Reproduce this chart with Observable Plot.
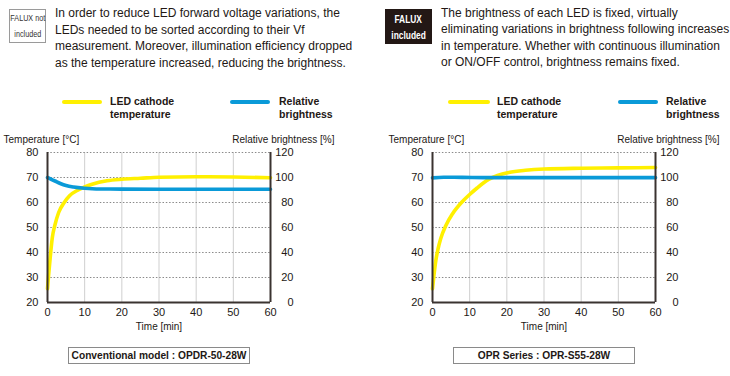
<!DOCTYPE html>
<html><head><meta charset="utf-8">
<script src="https://cdn.jsdelivr.net/npm/d3@7"></script>
<script src="https://cdn.jsdelivr.net/npm/@observablehq/plot@0.6"></script>
<style>
body{margin:0;background:#fff;}
#root{position:relative;width:730px;height:376px;overflow:hidden;font-family:"Liberation Sans",Arial,sans-serif;color:#231815;}
.abs{position:absolute;}
.para{font-size:12px;line-height:16.5px;white-space:nowrap;color:#231815;}
.badge{box-sizing:border-box;display:flex;flex-direction:column;justify-content:center;align-items:center;line-height:16px;white-space:nowrap;}
.badge span{display:block;transform:scaleX(0.8);}
.leg{font-size:10.5px;font-weight:bold;line-height:13.3px;white-space:nowrap;}
.sw{height:4px;border-radius:2px;}
.cap{box-sizing:border-box;border:1px solid #8a8a8a;font-size:10.2px;font-weight:bold;text-align:center;line-height:15px;white-space:nowrap;}
</style></head>
<body>
<div id="root">
  <div class="abs badge" style="left:9px;top:9px;width:37px;height:34px;border:1px solid #9a9a9a;font-size:9px;color:#333;"><span>FALUX not</span><span>included</span></div>
  <div class="abs para" style="left:55px;top:5px;">In order to reduce LED forward voltage variations, the<br>LEDs needed to be sorted according to their Vf<br>measurement. Moreover, illumination efficiency dropped<br>as the temperature increased, reducing the brightness.</div>
  <div class="abs badge" style="left:385px;top:9px;width:47px;height:35px;background:#231815;color:#fff;font-size:10.5px;font-weight:bold;"><span>FALUX</span><span>included</span></div>
  <div class="abs para" style="left:441px;top:4.5px;">The brightness of each LED is fixed, virtually<br>eliminating variations in brightness following increases<br>in temperature. Whether with continuous illumination<br>or ON/OFF control, brightness remains fixed.</div>

  <div class="abs sw" style="left:62px;top:100px;width:40px;background:#fff000;"></div>
  <div class="abs leg" style="left:110px;top:95px;">LED cathode<br>temperature</div>
  <div class="abs sw" style="left:230px;top:100px;width:40px;background:#0a9ad8;"></div>
  <div class="abs leg" style="left:279px;top:95px;">Relative<br>brightness</div>

  <div class="abs sw" style="left:448px;top:100px;width:42px;background:#fff000;"></div>
  <div class="abs leg" style="left:497px;top:95px;">LED cathode<br>temperature</div>
  <div class="abs sw" style="left:618px;top:100px;width:40px;background:#0a9ad8;"></div>
  <div class="abs leg" style="left:666px;top:95px;">Relative<br>brightness</div>

  <div id="p1" class="abs" style="left:0px;top:125px;"></div>
  <div id="p2" class="abs" style="left:385px;top:125px;"></div>

  <div class="abs cap" style="left:68px;top:347px;width:182px;height:17px;">Conventional model : OPDR-50-28W</div>
  <div class="abs cap" style="left:453px;top:347px;width:182px;height:17px;">OPR Series : OPR-S55-28W</div>
</div>
<script>
// ---- data ----
const xTicks = [0, 10, 20, 30, 40, 50, 60];
const tempTicks = [20, 30, 40, 50, 60, 70, 80];
const brightTicks = [0, 20, 40, 60, 80, 100, 120];

const convTempTime = [0, 0.3, 0.7, 1.3, 2, 3, 4.5, 6, 8, 10, 12, 16, 20, 25, 30, 40, 50, 60];
const convTemp     = [25.5, 31, 37.5, 46, 51, 56, 60, 62.8, 64.8, 66.2, 67.3, 68.7, 69.3, 69.7, 70.1, 70.3, 70.2, 69.9];
const convBrightTime = [0, 1, 2, 3.6, 5, 7, 10, 12, 15, 20, 30, 45, 60];
const convBright     = [100, 98.6, 97.2, 95, 93.6, 92.4, 91.4, 91.0, 90.8, 90.7, 90.6, 90.6, 90.6];

const oprTempTime = [0, 0.4, 0.9, 1.5, 2.2, 3.6, 5.4, 8, 10, 12, 13.5, 15.2, 17.5, 20.5, 25, 30, 40, 50, 60];
const oprTemp     = [25.5, 31, 36.8, 41.5, 45.5, 50.8, 55.5, 60.3, 63.2, 65.8, 67.6, 69.3, 70.8, 72.0, 72.9, 73.4, 73.7, 73.85, 74];
const oprBrightTime = [0, 3, 8, 15, 30, 60];
const oprBright     = [99.7, 100.2, 100.1, 99.9, 99.9, 99.9];

const FONT = "'Liberation Sans',Arial,sans-serif";
const YELLOW = "#fff000", BLUE = "#0a9ad8", DARK = "#3a3330";
const toTemp = b => 20 + b * 60 / 120;

function zip(ts, vs) { return ts.map((t, i) => ({t, v: vs[i]})); }

function panel(width, marginRight, temp, bright) {
  return Plot.plot({
    width, height: 215,
    marginLeft: 47, marginRight, marginTop: 27, marginBottom: 38,
    x: {domain: [0, 60]},
    y: {domain: [20, 80]},
    style: {fontFamily: FONT, fontSize: "11px", color: "#231815", background: "transparent", overflow: "visible"},
    marks: [
      Plot.ruleX(xTicks.slice(1, -1), {stroke: "#cfcfcf", strokeWidth: 1}),
      Plot.ruleY(tempTicks.slice(1), {stroke: "#8a8a8a", strokeWidth: 1, strokeDasharray: "1.5,1.8"}),
      Plot.line(temp, {x: "t", y: "v", stroke: YELLOW, strokeWidth: 3.6, curve: "monotone-x"}),
      Plot.line(bright, {x: "t", y: d => toTemp(d.v), stroke: BLUE, strokeWidth: 3.6, curve: "monotone-x"}),
      Plot.ruleX([0, 60], {stroke: DARK, strokeWidth: 2}),
      Plot.ruleY([20], {stroke: DARK, strokeWidth: 2}),
      Plot.axisY(tempTicks, {tickSize: 0, tickPadding: 9, label: null}),
      Plot.text(brightTicks, {frameAnchor: "right", y: d => toTemp(d), text: d => String(d), dx: 23, textAnchor: "end"}),
      Plot.axisX(xTicks, {tickSize: 0, tickPadding: 6, label: null}),
      Plot.text(["Time [min]"], {frameAnchor: "bottom", text: d => d, dy: 27, fontSize: 10}),
      Plot.text(["Temperature [°C]"], {frameAnchor: "top-left", text: d => d, dx: -44, dy: -17, textAnchor: "start", fontSize: 10}),
      Plot.text(["Relative brightness [%]"], {frameAnchor: "top-right", text: d => d, dx: 64, dy: -17, textAnchor: "end", fontSize: 10})
    ]
  });
}

document.getElementById("p1").appendChild(panel(365, 95, zip(convTempTime, convTemp), zip(convBrightTime, convBright)));
document.getElementById("p2").appendChild(panel(345, 75, zip(oprTempTime, oprTemp), zip(oprBrightTime, oprBright)));
</script>
</body></html>
